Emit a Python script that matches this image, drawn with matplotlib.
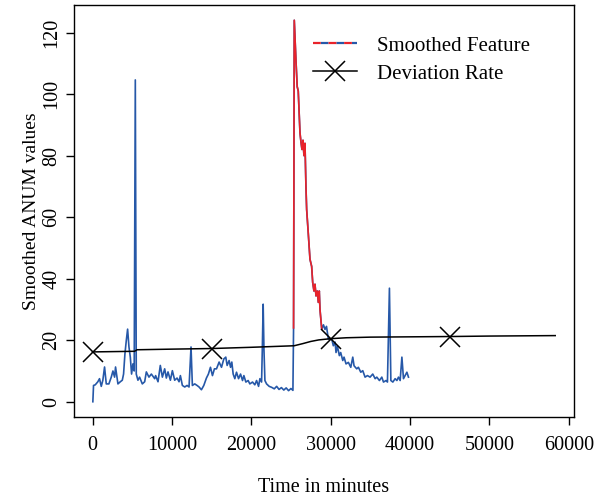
import matplotlib
matplotlib.use("Agg")
import matplotlib.pyplot as plt
from matplotlib.lines import Line2D
import numpy as np

plt.rcParams['font.family'] = ['Liberation Serif', 'DejaVu Serif']

# Smoothed feature (time in minutes, value)
feat_t = [40, 126, 340, 670, 880, 1100, 1300, 1515, 1730, 2060, 2360, 2570, 2780, 2900,
          3200, 3500, 3750, 3910, 4080, 4250, 4420, 4590, 4760, 4920, 5090, 5250, 5390,
          5510, 5720, 5930, 6270, 6570, 6780, 7110, 7410, 7830,
          7950, 8250, 8540, 8800, 9090, 9300, 9510, 9810, 10060, 10350, 10650, 10900,
          11070, 11320, 11620, 11910, 12160, 12410, 12580, 12880, 13170, 13420, 13720,
          14020, 14350, 14600, 14860, 15110, 15360,
          15620, 15950, 16250, 16540, 16790, 16960, 17210, 17390, 17550, 17720, 17930,
          18140, 18400, 18650, 18900, 19070, 19320, 19610, 19820, 20160, 20450, 20670,
          20920, 21090, 21300, 21400, 21500, 21600, 21720, 21930, 22260, 22560,
          22900, 23200, 23500, 23800, 24100, 24400, 24700, 25000, 25250,
          25330, 25420, 25630, 25790, 25920, 26140, 26260, 26390, 26520, 26640, 26770,
          26890, 26980, 27180, 27400, 27610, 27740, 27900, 28030, 28160, 28320, 28450,
          28570, 28660, 28880,
          29100, 29290, 29480, 29710, 30140, 30340, 30560, 30680, 30850, 31100, 31270,
          31530, 31690, 31940, 32240, 32540, 32790, 32950, 33290, 33500, 33800, 34050,
          34340, 34640, 34970, 35310, 35610, 35820, 36150, 36450, 36660, 36990, 37160,
          37410, 37590, 37840, 38130, 38350, 38550, 38760, 38980, 39180, 39390, 39610,
          39810]
feat_v = [0, 5.3, 5.5, 6.5, 7.5, 5.0, 7.0, 11.3, 5.8, 5.8, 8.0, 10.0, 8.0, 11.3,
          5.8, 6.5, 7.0, 9.0, 15.5, 19.8, 23.6, 17.8, 14.5, 9.0, 12.3, 10.0, 104.6,
          9.0, 7.0, 8.0, 5.8, 6.5, 9.7, 8.0, 9.0, 7.5,
          8.5, 6.5, 11.8, 8.0, 10.7, 7.7, 9.7, 7.0, 10.1, 7.0, 7.7, 6.5,
          8.5, 5.3, 4.8, 5.3, 4.8, 17.8, 5.3, 5.8, 5.3, 4.8, 3.9,
          5.3, 7.7, 9.0, 11.2, 8.5, 10.7,
          10.7, 12.9, 11.2, 13.9, 14.5, 11.8, 13.4, 11.2, 12.9, 9.0, 7.5,
          9.6, 7.5, 9.0, 6.9, 8.5, 6.4, 6.9, 5.8, 6.4, 5.5, 6.9,
          5.0, 7.5, 6.4, 18.0, 31.7, 17.0, 6.9, 5.8, 5.0, 4.7,
          4.2, 5.0, 4.0, 4.6, 3.8, 4.5, 3.6, 4.3, 3.7,
          24.0, 124.0, 111.0, 102.4, 101.0, 87.4, 84.5, 82.0, 85.0, 80.0, 84.0,
          70.0, 62.5, 55.0, 46.3, 44.0, 38.8, 36.0, 38.2, 34.4, 36.0, 32.3,
          36.0, 30.0, 23.6,
          25.0, 23.5, 24.5, 20.4, 20.4, 18.2, 19.4, 16.0, 18.1, 15.0, 16.0,
          13.4, 14.5, 12.3, 12.8, 11.2, 14.5, 11.7, 10.7, 11.2, 9.6, 10.1,
          8.0, 8.5, 8.0, 9.0, 7.5, 8.0, 6.9, 8.0, 6.4, 6.9, 6.4,
          36.9, 6.9, 6.4, 7.5, 6.9, 8.0, 6.9, 14.5, 7.5, 8.5, 9.6,
          8.0]

# anomaly window (drawn in red)
anom_start, anom_end = 25330, 28880

# Deviation rate
dev_t = [0, 5300, 5600, 10000, 15000, 20000, 25400, 26500, 27500, 28500, 30000,
         32000, 35000, 40000, 45000, 50000, 58300]
dev_v = [16.2, 16.4, 16.9, 17.1, 17.3, 17.7, 18.2, 18.9, 19.6, 20.1, 20.5,
         20.8, 21.0, 21.1, 21.2, 21.35, 21.5]
dev_marks = [0, 15000, 30000, 45000]

xticks = [0, 10000, 20000, 30000, 40000, 50000, 60000]
yticks = [0, 20, 40, 60, 80, 100, 120]

BLUE = '#2658a8'
RED = '#e8232b'

fig = plt.figure(figsize=(5.95, 5.04), dpi=100)
ax = fig.add_axes([0.1244, 0.1726, 0.8403, 0.8175])

ft = np.array(feat_t)
fv = np.array(feat_v)
ax.plot(ft, fv, color=BLUE, lw=1.2, zorder=2)
m = (ft >= anom_start) & (ft <= anom_end)
ax.plot(ft[m], fv[m], color=RED, lw=1.2, zorder=3)

mark_idx = [dev_t.index(v) for v in dev_marks]
ax.plot(dev_t, dev_v, color='black', lw=1.1, marker='x', markersize=14,
        markeredgewidth=1.1, markevery=mark_idx, zorder=4)

ax.set_xlim(-2333, 60666)
ax.set_ylim(-4.96, 128.96)
ax.set_xticks(xticks)
ax.set_xticklabels([str(v) for v in xticks])
ax.set_yticks(yticks)
ax.set_yticklabels([str(v) for v in yticks], rotation=90, va='center')
ax.tick_params(direction='out', length=6, width=1, labelsize=14.5)
ax.tick_params(axis='x', pad=8)
ax.tick_params(axis='y', pad=3)
for s in ax.spines.values():
    s.set_linewidth(1.0)

ax.set_xlabel('Time in minutes', fontsize=14.5, labelpad=16)
ax.set_ylabel('Smoothed ANUM values', fontsize=14, labelpad=2)

h1 = Line2D([], [], color=RED, gapcolor=BLUE, lw=1.6,
            linestyle=(0, (3.5, 3.5)))
h2 = Line2D([], [], color='black', lw=1.1, marker='x', markersize=14,
            markeredgewidth=1.1)
ax.legend([h1, h2], ['Smoothed Feature', 'Deviation Rate'],
          loc='upper left', bbox_to_anchor=(0.44, 0.97), frameon=False,
          fontsize=15, handlelength=2.1, handletextpad=1.0, labelspacing=0.4,
          numpoints=1)

fig.savefig('out.png', dpi=100)
